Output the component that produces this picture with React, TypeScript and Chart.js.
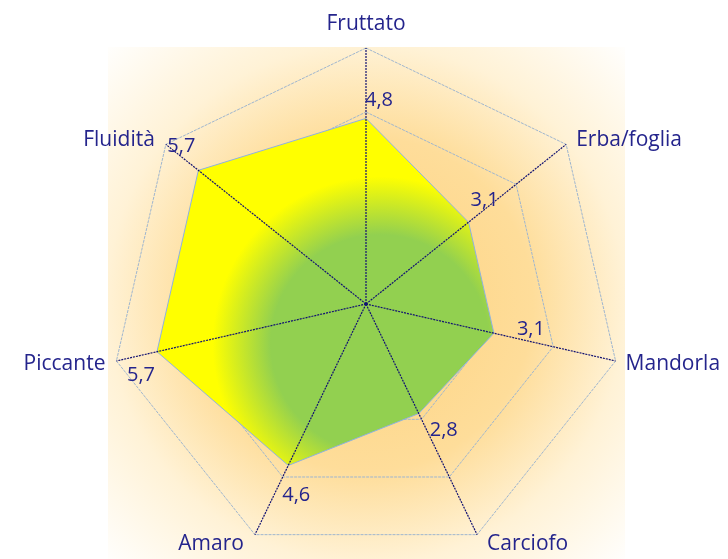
import React, { useEffect, useRef } from "react";
import { Chart, registerables } from "chart.js";

Chart.register(...registerables);

const categories = ["Fruttato", "Erba/foglia", "Mandorla", "Carciofo", "Amaro", "Piccante", "Fluidità"];
const values = [4.8, 3.1, 3.1, 2.8, 4.6, 5.7, 5.7];
const scaleMin = -1;
const scaleMax = 7;
const scaleStep = 2;

const NAVY = "#24248c";
const LABEL_FONT = "21px 'Open Sans', 'DejaVu Sans', sans-serif";
const VALUE_FONT = "20px 'Open Sans', 'DejaVu Sans', sans-serif";
const valueLabelOffsets = [[13, -18], [16, -22], [37, -4], [25, 17], [8, 30], [-16, 24], [-17, -24]];

const fmt = (v: number) => v.toFixed(1).replace(".", ",");

const decorPlugin = {
  id: "decor",
  beforeDraw(chart: any) {
    const s = chart.scales.r;
    const ctx = chart.ctx;
    const cx = s.xCenter, cy = s.yCenter, R = s.drawingArea;
    ctx.save();
    const g = ctx.createRadialGradient(cx, cy, 0, cx, cy, R * 1.45);
    g.addColorStop(0, "#fdd27e");
    g.addColorStop(0.45, "#fedd9a");
    g.addColorStop(0.7, "#fff2d6");
    g.addColorStop(1, "#ffffff");
    ctx.fillStyle = g;
    ctx.fillRect(cx - R - 2, cy - R - 1, 2 * R + 5, chart.height);
    ctx.restore();
  },
  afterDatasetsDraw(chart: any) {
    const s = chart.scales.r;
    const ctx = chart.ctx;
    const cx = s.xCenter, cy = s.yCenter, R = s.drawingArea;
    ctx.save();
    // angle lines on top of fill
    ctx.strokeStyle = "#121272";
    ctx.lineWidth = 1.2;
    ctx.setLineDash([2, 1]);
    for (let i = 0; i < categories.length; i++) {
      const p = s.getPointPosition(i, R);
      ctx.beginPath();
      ctx.moveTo(cx, cy);
      ctx.lineTo(p.x, p.y);
      ctx.stroke();
    }
    ctx.setLineDash([]);
    ctx.fillStyle = "#121272";
    ctx.beginPath();
    ctx.arc(cx, cy, 1.8, 0, Math.PI * 2);
    ctx.fill();

    // category labels
    ctx.fillStyle = NAVY;
    ctx.font = LABEL_FONT;
    ctx.textBaseline = "middle";
    for (let i = 0; i < categories.length; i++) {
      const p = s.getPointPosition(i, R);
      const theta = (2 * Math.PI * i) / categories.length;
      if (i === 0) {
        ctx.textAlign = "center";
        ctx.fillText(categories[i], p.x, p.y - 24);
      } else {
        const dy = -9 * Math.cos(theta) + 1;
        if (p.x > cx) {
          ctx.textAlign = "left";
          ctx.fillText(categories[i], p.x + 10, p.y + dy);
        } else {
          ctx.textAlign = "right";
          ctx.fillText(categories[i], p.x - 11, p.y + dy);
        }
      }
    }

    // value labels
    ctx.font = VALUE_FONT;
    ctx.textAlign = "center";
    const meta = chart.getDatasetMeta(0);
    meta.data.forEach((el: any, i: number) => {
      const o = valueLabelOffsets[i];
      ctx.fillText(fmt(values[i]), el.x + o[0], el.y + o[1]);
    });
    ctx.restore();
  },
};

export default function App() {
  const ref = useRef<HTMLCanvasElement>(null);
  useEffect(() => {
    document.body.style.margin = "0";
    document.body.style.overflow = "hidden";
    const chart = new Chart(ref.current!, {
      type: "radar",
      data: {
        labels: categories,
        datasets: [
          {
            data: values,
            borderColor: "#8fb2e0",
            borderWidth: 1,
            pointRadius: 0,
            fill: "start",
            backgroundColor: (c: any) => {
              const s = c.chart.scales.r;
              if (!s || s.xCenter === undefined) return "#92d050";
              const x = s.xCenter + 14, y = s.yCenter + 40;
              const g = c.chart.ctx.createRadialGradient(x, y, 0, x, y, 182);
              g.addColorStop(0, "#92d050");
              g.addColorStop(0.6, "#92d050");
              g.addColorStop(0.92, "#ffff00");
              g.addColorStop(1, "#ffff00");
              return g;
            },
          },
        ],
      },
      options: {
        responsive: false,
        animation: false,
        layout: { padding: { left: 110, right: 106, top: 48, bottom: 40 } },
        plugins: { legend: { display: false }, tooltip: { enabled: false } },
        elements: { line: { tension: 0 } },
        scales: {
          r: {
            min: scaleMin,
            max: scaleMax,
            ticks: { display: false, stepSize: scaleStep },
            pointLabels: { display: false },
            angleLines: { display: false },
            grid: { color: "#9fb6cf", lineWidth: 1 },
            border: { dash: [3, 1] },
          },
        },
      },
      plugins: [decorPlugin],
    });
    return () => chart.destroy();
  }, []);
  return (
    <div style={{ position: "fixed", left: 0, top: 0, width: 728, height: 559, overflow: "hidden", background: "#fff" }}>
      <canvas ref={ref} width={728} height={600} style={{ width: 728, height: 600, display: "block" }} />
    </div>
  );
}
